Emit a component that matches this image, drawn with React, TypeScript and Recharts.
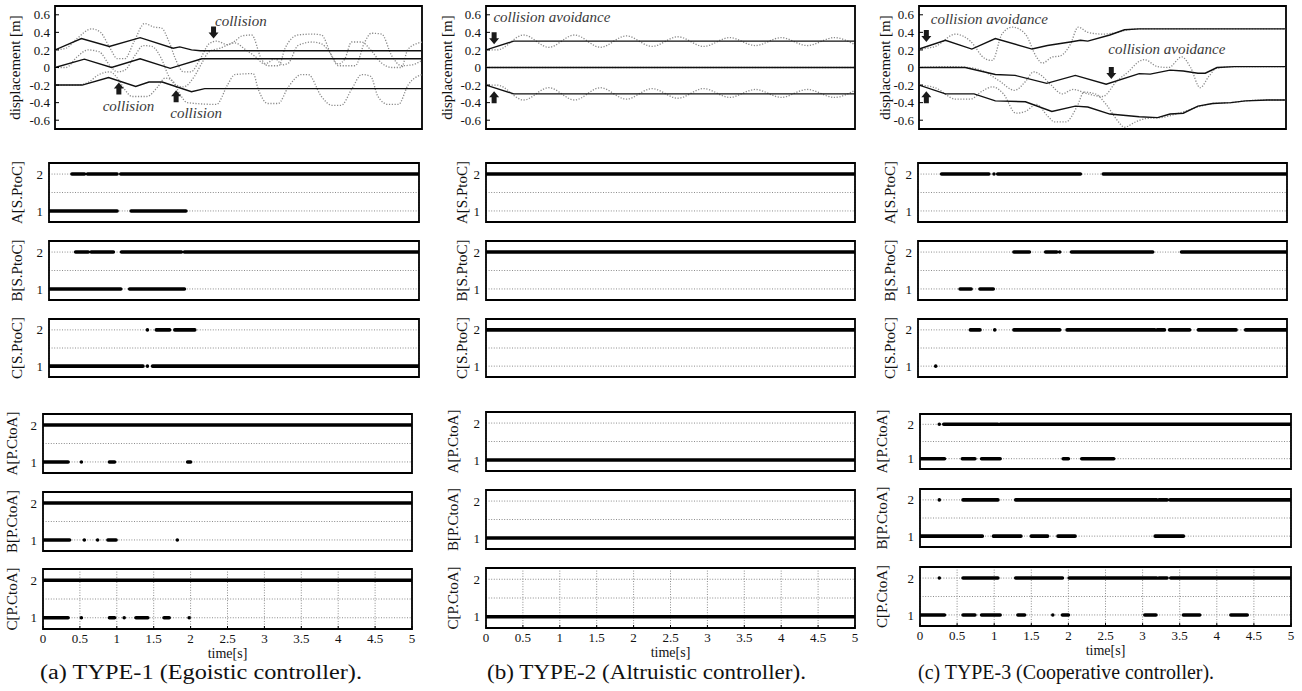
import React from 'react';
import { LineChart, Line, XAxis, YAxis, CartesianGrid, ReferenceArea, ReferenceDot } from 'recharts';

type P = [number, number];
const FONT = '"Liberation Serif", "Times New Roman", serif';

const TIME_TICKS = [0, 0.5, 1, 1.5, 2, 2.5, 3, 3.5, 4, 4.5, 5];
const DISP_TICKS = [-0.6, -0.4, -0.2, 0, 0.2, 0.4, 0.6];
const STATE_TICKS = [1, 1.5, 2];
const DISP_DOMAIN: P = [-0.7, 0.7];
const STATE_DOMAIN: P = [0.7, 2.3];

const CAPTIONS = [
  '(a) TYPE-1 (Egoistic controller).',
  '(b) TYPE-2 (Altruistic controller).',
  '(c) TYPE-3 (Cooperative controller).',
];
const STATE_LABELS = ['A[S.PtoC]', 'B[S.PtoC]', 'C[S.PtoC]', 'A[P.CtoA]', 'B[P.CtoA]', 'C[P.CtoA]'];

// ---------- TYPE-1 displacement ----------
const c1SolidA: P[] = [[0, 0.2], [0.36, 0.33], [0.74, 0.24], [1.16, 0.34], [1.61, 0.22], [1.7, 0.235], [1.86, 0.2], [1.98, 0.19], [5, 0.19]];
const c1SolidB: P[] = [[0, 0], [0.4, 0.095], [0.77, 0], [1.16, 0.1], [1.57, -0.01], [2.0, 0.1], [5, 0.1]];
const c1SolidC: P[] = [[0, -0.2], [0.37, -0.2], [0.73, -0.115], [1.1, -0.215], [1.28, -0.165], [1.46, -0.165], [1.86, -0.275], [2.04, -0.24], [5, -0.24]];
const c1DotA: P[] = [[0, 0.2], [0.15, 0.22], [0.3, 0.33], [0.5, 0.44], [0.62, 0.4], [0.75, 0.22], [0.85, 0.1], [0.95, 0.1], [1.08, 0.3], [1.22, 0.5], [1.35, 0.46], [1.45, 0.45], [1.55, 0.3], [1.65, 0.08], [1.75, -0.05], [1.85, -0.05], [1.98, 0.1], [2.1, 0.27], [2.2, 0.3], [2.35, 0.26], [2.45, 0.3], [2.55, 0.36], [2.68, 0.37], [2.81, 0.1], [2.9, 0.02], [3.05, 0.02], [3.13, 0.21], [3.31, 0.37], [3.5, 0.38], [3.63, 0.37], [3.77, 0.13], [3.86, 0.02], [4.09, 0.02], [4.22, 0.29], [4.31, 0.39], [4.45, 0.38], [4.59, 0.13], [4.72, 0.02], [4.86, 0.03], [5.0, 0.08]];
const c1DotB: P[] = [[0, 0], [0.15, 0.0], [0.3, 0.12], [0.45, 0.2], [0.6, 0.18], [0.75, 0.02], [0.85, -0.05], [0.95, -0.03], [1.1, 0.15], [1.2, 0.25], [1.32, 0.24], [1.45, 0.1], [1.55, -0.1], [1.65, -0.2], [1.75, -0.22], [1.9, -0.1], [2.0, 0.05], [2.1, 0.18], [2.25, 0.22], [2.45, 0.28], [2.6, 0.2], [2.72, 0.13], [2.86, 0.04], [3.0, 0.1], [3.1, 0.03], [3.18, 0.05], [3.31, 0.25], [3.5, 0.29], [3.63, 0.27], [3.72, 0.2], [3.86, 0.04], [3.95, 0.1], [4.04, 0.29], [4.18, 0.29], [4.3, 0.2], [4.45, 0.05], [4.59, 0.0], [4.72, 0.0], [4.81, 0.21], [5.0, 0.29]];
const c1DotC: P[] = [[0, -0.2], [0.3, -0.2], [0.45, -0.17], [0.6, -0.08], [0.75, -0.05], [0.85, -0.12], [0.95, -0.25], [1.05, -0.33], [1.25, -0.33], [1.4, -0.22], [1.5, -0.12], [1.6, -0.15], [1.7, -0.3], [1.8, -0.4], [2.2, -0.42], [2.35, -0.2], [2.45, -0.08], [2.7, -0.07], [2.77, -0.25], [2.9, -0.41], [3.04, -0.41], [3.18, -0.22], [3.36, -0.08], [3.45, -0.08], [3.63, -0.33], [3.77, -0.43], [3.9, -0.43], [4.04, -0.25], [4.18, -0.08], [4.3, -0.1], [4.4, -0.33], [4.54, -0.42], [4.68, -0.42], [4.81, -0.2], [5.0, -0.08]];

// ---------- TYPE-2 displacement ----------
const c2SolidA: P[] = [[0, 0.2], [0.375, 0.3], [5, 0.3]];
const c2SolidB: P[] = [[0, 0], [5, 0]];
const c2SolidC: P[] = [[0, -0.2], [0.375, -0.3], [5, -0.3]];
const c2DotA: P[] = [[0, 0.2], [0.15, 0.2], [0.51, 0.37], [0.85, 0.23], [1.2, 0.37], [1.55, 0.23], [1.9, 0.36], [2.25, 0.24], [2.6, 0.35], [2.95, 0.24], [3.3, 0.34], [3.65, 0.25], [4.0, 0.34], [4.35, 0.25], [4.72, 0.34], [5.0, 0.26]];
const c2DotB: P[] = [[0, 0], [5, 0]];
const c2DotC: P[] = [[0, -0.2], [0.15, -0.2], [0.51, -0.37], [0.85, -0.23], [1.2, -0.37], [1.55, -0.23], [1.9, -0.36], [2.25, -0.24], [2.6, -0.35], [2.95, -0.24], [3.3, -0.34], [3.65, -0.25], [4.0, -0.34], [4.35, -0.25], [4.72, -0.34], [5.0, -0.26]];

// ---------- TYPE-3 displacement ----------
const c3SolidA: P[] = [[0, 0.21], [0.36, 0.31], [0.72, 0.21], [1.04, 0.33], [1.54, 0.21], [1.75, 0.25], [2.06, 0.29], [2.2, 0.31], [2.3, 0.3], [2.6, 0.37], [2.8, 0.43], [3.0, 0.44], [5, 0.44]];
const c3SolidB: P[] = [[0, 0], [0.63, 0], [1.04, -0.08], [1.31, -0.09], [1.74, -0.18], [2.13, -0.09], [2.55, -0.19], [3.0, -0.07], [3.15, -0.075], [3.42, -0.03], [3.6, -0.04], [3.8, -0.065], [3.9, -0.065], [4.06, 0], [4.3, 0.01], [5, 0.01]];
const c3SolidC: P[] = [[0, -0.2], [0.36, -0.3], [0.75, -0.3], [1.04, -0.38], [1.45, -0.39], [1.81, -0.5], [2.13, -0.44], [2.3, -0.45], [2.6, -0.53], [3.0, -0.56], [3.25, -0.57], [3.42, -0.53], [3.6, -0.52], [3.8, -0.44], [4.0, -0.41], [4.25, -0.4], [4.45, -0.38], [4.75, -0.37], [5, -0.37]];
const c3DotA: P[] = [[0, 0.21], [0.22, 0.24], [0.5, 0.38], [0.7, 0.3], [0.9, 0.1], [1.0, 0.08], [1.13, 0.38], [1.27, 0.46], [1.45, 0.38], [1.6, 0.12], [1.68, 0.05], [1.82, 0.12], [1.92, 0.13], [2.06, 0.26], [2.17, 0.46], [2.3, 0.4], [2.5, 0.38], [2.7, 0.4], [2.85, 0.43], [3.0, 0.44], [5, 0.44]];
const c3DotB: P[] = [[0, 0], [0.4, 0.01], [0.68, 0], [0.9, -0.05], [1.09, -0.15], [1.3, -0.26], [1.45, -0.16], [1.56, -0.05], [1.65, -0.08], [1.8, -0.2], [1.95, -0.3], [2.1, -0.25], [2.3, -0.3], [2.5, -0.33], [2.7, -0.15], [2.85, -0.05], [3.0, 0.07], [3.07, 0.09], [3.25, 0.01], [3.4, 0.0], [3.58, 0.12], [3.7, 0.0], [3.83, -0.23], [3.95, -0.1], [4.05, -0.01], [4.3, 0.01], [5, 0.01]];
const c3DotC: P[] = [[0, -0.2], [0.22, -0.23], [0.5, -0.36], [0.7, -0.36], [0.86, -0.27], [1.0, -0.22], [1.15, -0.3], [1.32, -0.52], [1.45, -0.5], [1.6, -0.42], [1.75, -0.55], [1.85, -0.62], [2.0, -0.62], [2.15, -0.45], [2.25, -0.28], [2.4, -0.3], [2.55, -0.42], [2.7, -0.6], [2.8, -0.68], [2.95, -0.62], [3.1, -0.58], [3.3, -0.57], [3.5, -0.53], [3.8, -0.45], [4.0, -0.41], [4.25, -0.4], [4.45, -0.38], [4.75, -0.37], [5, -0.37]];

// ---------- annotations ----------
type Arrow = { t: number; v: number; dir: 'up' | 'down' };
type Note = { t: number; v: number; text: string };
const c1Arrows: Arrow[] = [{ t: 2.16, v: 0.33, dir: 'down' }, { t: 0.87, v: -0.17, dir: 'up' }, { t: 1.65, v: -0.26, dir: 'up' }];
const c1Notes: Note[] = [{ t: 2.18, v: 0.53, text: 'collision' }, { t: 0.65, v: -0.44, text: 'collision' }, { t: 1.57, v: -0.52, text: 'collision' }];
const c2Arrows: Arrow[] = [{ t: 0.11, v: 0.265, dir: 'down' }, { t: 0.11, v: -0.27, dir: 'up' }];
const c2Notes: Note[] = [{ t: 0.1, v: 0.57, text: 'collision avoidance' }];
const c3Arrows: Arrow[] = [{ t: 0.1, v: 0.29, dir: 'down' }, { t: 0.1, v: -0.27, dir: 'up' }, { t: 2.62, v: -0.13, dir: 'down' }];
const c3Notes: Note[] = [{ t: 0.16, v: 0.55, text: 'collision avoidance' }, { t: 2.58, v: 0.21, text: 'collision avoidance' }];

// ---------- state segments [start, end] ----------
const c1_SA_2: P[] = [[0.31, 0.48], [0.52, 0.92], [0.97, 5]];
const c1_SA_1: P[] = [[0, 0.92], [1.11, 1.85]];
const c1_SB_2: P[] = [[0.36, 0.53], [0.57, 0.87], [0.98, 1.79], [1.83, 5]];
const c1_SB_1: P[] = [[0, 0.97], [1.09, 1.83]];
const c1_SC_2: P[] = [[1.33, 1.33], [1.45, 1.63], [1.7, 1.97]];
const c1_SC_1: P[] = [[0, 1.27], [1.33, 1.33], [1.4, 5]];
const c1_PA_2: P[] = [[0, 5]];
const c1_PA_1: P[] = [[0, 0.34], [0.52, 0.52], [0.9, 0.97], [1.96, 2.0]];
const c1_PB_2: P[] = [[0, 5]];
const c1_PB_1: P[] = [[0, 0.36], [0.56, 0.56], [0.74, 0.74], [0.88, 0.99], [1.82, 1.82]];
const c1_PC_2: P[] = [[0, 5]];
const c1_PC_1: P[] = [[0, 0.34], [0.52, 0.52], [0.9, 0.97], [1.1, 1.1], [1.26, 1.42], [1.64, 1.71], [1.98, 1.98]];

const c2_SA_2: P[] = [[0, 5]];
const c2_SB_2: P[] = [[0, 5]];
const c2_SC_2: P[] = [[0, 5]];
const c2_PA_1: P[] = [[0, 5]];
const c2_PB_1: P[] = [[0, 5]];
const c2_PC_1: P[] = [[0, 5]];
const NONE: P[] = [];

const c3_SA_2: P[] = [[0.32, 0.96], [1.03, 1.03], [1.08, 2.2], [2.51, 5]];
const c3_SB_2: P[] = [[1.3, 1.51], [1.73, 1.88], [1.92, 1.92], [2.08, 3.18], [3.57, 5]];
const c3_SB_1: P[] = [[0.57, 0.72], [0.84, 1.02]];
const c3_SC_2: P[] = [[0.71, 0.84], [1.04, 1.04], [1.3, 1.92], [2.02, 3.21], [3.24, 3.34], [3.41, 3.68], [3.8, 4.31], [4.44, 5]];
const c3_SC_1: P[] = [[0.24, 0.24]];
const c3_PA_2: P[] = [[0.26, 0.26], [0.32, 1.05], [1.08, 5]];
const c3_PA_1: P[] = [[0, 0.33], [0.57, 0.74], [0.83, 1.08], [1.93, 2.0], [2.18, 2.61]];
const c3_PB_2: P[] = [[0.26, 0.26], [0.58, 1.05], [1.29, 3.19], [3.22, 3.33], [3.37, 5]];
const c3_PB_1: P[] = [[0, 0.84], [0.99, 1.36], [1.5, 1.72], [1.86, 2.09], [3.17, 3.55]];
const c3_PC_2: P[] = [[0.26, 0.26], [0.58, 1.05], [1.29, 1.92], [2.01, 3.19], [3.22, 3.33], [3.38, 5]];
const c3_PC_1: P[] = [[0, 0.33], [0.58, 0.74], [0.83, 1.08], [1.32, 1.41], [1.79, 1.79], [1.92, 2.0], [3.03, 3.18], [3.55, 3.77], [4.19, 4.41]];

// ---------- helpers ----------
const toPts = (arr: P[]) => arr.map(([t, v]) => ({ t, v }));
const segData = (segs: P[], level: number) => {
  const out: { t: number; v: number | null }[] = [];
  segs.forEach(([a, b]) => {
    out.push({ t: a, v: level });
    out.push({ t: b, v: level });
    out.push({ t: b, v: null });
  });
  return out;
};

const vLabel = (text: string, cx: number, size: number) => (props: any) => {
  const vb = props.viewBox || { y: 0, height: 0 };
  const y = vb.y + vb.height / 2;
  return (
    <text x={cx} y={y} transform={`rotate(-90 ${cx} ${y})`} textAnchor="middle" dominantBaseline="central" fontFamily={FONT} fontSize={size} fill="#111">
      {text}
    </text>
  );
};

const tickStyle = { fontSize: 13, fill: '#111', fontFamily: FONT };

const arrowShape = (dir: 'up' | 'down') => (p: any) => {
  const { cx, cy } = p;
  const s = dir === 'down' ? -1 : 1;
  const d = `M${cx - 2.5},${cy + s * 12} L${cx + 2.5},${cy + s * 12} L${cx + 2.5},${cy + s * 6} L${cx + 5},${cy + s * 6} L${cx},${cy} L${cx - 5},${cy + s * 6} L${cx - 2.5},${cy + s * 6} Z`;
  return <path d={d} fill="#1a1a1a" />;
};
const noteShape = (text: string) => (p: any) => (
  <text x={p.cx} y={p.cy} dominantBaseline="central" fontFamily={FONT} fontStyle="italic" fontSize={15} fill="#3a3a3a">
    {text}
  </text>
);

type DispProps = {
  x0: number; fl: number; fr: number; ft: number; fb: number; labelX: number;
  solids: P[][]; dots: P[][]; arrows: Arrow[]; notes: Note[];
};

function DispPanel({ x0, fl, fr, ft, fb, labelX, solids, dots, arrows, notes }: DispProps) {
  const R = 8;
  const W = fr - x0 + R;
  const H = fb + 6;
  return (
    <div style={{ position: 'absolute', left: x0, top: 0 }}>
      <LineChart width={W} height={H} margin={{ top: ft, right: R, bottom: 0, left: 0 }}>
        <XAxis type="number" dataKey="t" domain={[0, 5]} ticks={TIME_TICKS} interval={0} height={6} tick={false} tickSize={-4} axisLine={false} tickLine={{ stroke: '#000' }} allowDataOverflow />
        <XAxis xAxisId="top" orientation="top" type="number" dataKey="t" domain={[0, 5]} ticks={TIME_TICKS} interval={0} height={0} tick={false} tickSize={-4} axisLine={false} tickLine={{ stroke: '#000' }} allowDataOverflow />
        <YAxis type="number" domain={DISP_DOMAIN} ticks={DISP_TICKS} interval={0} width={fl - x0} tickSize={-4} tickMargin={9} axisLine={false} tickLine={{ stroke: '#000' }} tick={tickStyle} tickFormatter={(v: number) => (v === 0 ? '0' : v.toFixed(1))} allowDataOverflow label={{ content: vLabel('displacement [m]', labelX - x0, 15) }} />
        <YAxis yAxisId="r" orientation="right" type="number" domain={DISP_DOMAIN} ticks={DISP_TICKS} interval={0} width={0} tick={false} tickSize={-4} axisLine={false} tickLine={{ stroke: '#000' }} allowDataOverflow />
        {dots.map((d, i) => (
          <Line key={'d' + i} data={toPts(d)} dataKey="v" type="monotone" stroke="#8a8a8a" strokeWidth={1.3} strokeDasharray="1.2 1.6" dot={false} activeDot={false} isAnimationActive={false} />
        ))}
        {solids.map((d, i) => (
          <Line key={'s' + i} data={toPts(d)} dataKey="v" type="linear" stroke="#111" strokeWidth={1.4} dot={false} activeDot={false} isAnimationActive={false} />
        ))}
        <ReferenceArea x1={0} x2={5} y1={DISP_DOMAIN[0]} y2={DISP_DOMAIN[1]} fill="none" fillOpacity={0} stroke="#000" strokeWidth={1.8} />
        {arrows.map((a, i) => (
          <ReferenceDot key={'a' + i} x={a.t} y={a.v} r={1} shape={arrowShape(a.dir)} />
        ))}
        {notes.map((n, i) => (
          <ReferenceDot key={'n' + i} x={n.t} y={n.v} r={1} shape={noteShape(n.text)} />
        ))}
      </LineChart>
    </div>
  );
}

type StateProps = {
  x0: number; fl: number; fr: number; ft: number; fb: number; labelX: number;
  label: string; lvl1: P[]; lvl2: P[]; bottom?: boolean;
};

function StatePanel({ x0, fl, fr, ft, fb, labelX, label, lvl1, lvl2, bottom }: StateProps) {
  const R = 8;
  const T = 6;
  const B = bottom ? 32 : 4;
  const W = fr - x0 + R;
  const H = fb - ft + T + B;
  return (
    <div style={{ position: 'absolute', left: x0, top: ft - T }}>
      <LineChart width={W} height={H} margin={{ top: T, right: R, bottom: 0, left: 0 }}>
        <CartesianGrid stroke="#8c8c8c" strokeDasharray="1 1.6" strokeWidth={1} />
        <XAxis type="number" dataKey="t" domain={[0, 5]} ticks={TIME_TICKS} interval={0} height={B} tick={bottom ? tickStyle : false} tickSize={-3} tickMargin={8} axisLine={false} tickLine={{ stroke: '#000' }} allowDataOverflow
          label={bottom ? { content: (p: any) => { const vb = p.viewBox || { x: 0, y: 0, width: 0 }; return <text x={vb.x + vb.width / 2} y={vb.y + 24} textAnchor="middle" dominantBaseline="central" fontFamily={FONT} fontSize={14} fill="#111">time[s]</text>; } } : undefined} />
        <YAxis type="number" domain={STATE_DOMAIN} ticks={STATE_TICKS} interval={0} width={fl - x0} tickSize={0} tickMargin={6} axisLine={false} tickLine={false} tick={tickStyle} tickFormatter={(v: number) => (v === 1.5 ? '' : String(v))} allowDataOverflow label={{ content: vLabel(label, labelX - x0, 15) }} />
        <Line data={segData(lvl2, 2)} dataKey="v" type="linear" stroke="#000" strokeWidth={3.6} strokeLinecap="round" dot={false} activeDot={false} isAnimationActive={false} />
        <Line data={segData(lvl1, 1)} dataKey="v" type="linear" stroke="#000" strokeWidth={3.6} strokeLinecap="round" dot={false} activeDot={false} isAnimationActive={false} />
        <ReferenceArea x1={0} x2={5} y1={STATE_DOMAIN[0]} y2={STATE_DOMAIN[1]} fill="none" fillOpacity={0} stroke="#000" strokeWidth={1.8} />
      </LineChart>
    </div>
  );
}

const S_ROWS: P[] = [[163, 222], [241, 300], [319, 377]];

type ColSpec = {
  x0: number;
  disp: { fl: number; fr: number; labelX: number; solids: P[][]; dots: P[][]; arrows: Arrow[]; notes: Note[] };
  s: { fl: number; fr: number; labelX: number; data: [P[], P[]][] };
  p: { fl: number; fr: number; labelX: number; rows: P[]; data: [P[], P[]][] };
  caption: { x: number; w: number; text: string };
};

const COLS: ColSpec[] = [
  {
    x0: 0,
    disp: { fl: 55, fr: 422, labelX: 15, solids: [c1SolidA, c1SolidB, c1SolidC], dots: [c1DotA, c1DotB, c1DotC], arrows: c1Arrows, notes: c1Notes },
    s: { fl: 49, fr: 419, labelX: 17, data: [[c1_SA_1, c1_SA_2], [c1_SB_1, c1_SB_2], [c1_SC_1, c1_SC_2]] },
    p: { fl: 43, fr: 412, labelX: 12, rows: [[414, 473], [492, 551], [569, 629]], data: [[c1_PA_1, c1_PA_2], [c1_PB_1, c1_PB_2], [c1_PC_1, c1_PC_2]] },
    caption: { x: 40, w: 322, text: CAPTIONS[0] },
  },
  {
    x0: 440,
    disp: { fl: 486, fr: 855, labelX: 447, solids: [c2SolidA, c2SolidB, c2SolidC], dots: [c2DotA, c2DotB, c2DotC], arrows: c2Arrows, notes: c2Notes },
    s: { fl: 486, fr: 855, labelX: 462, data: [[NONE, c2_SA_2], [NONE, c2_SB_2], [NONE, c2_SC_2]] },
    p: { fl: 486, fr: 855, labelX: 453, rows: [[412, 471], [490, 549], [568, 628]], data: [[c2_PA_1, NONE], [c2_PB_1, NONE], [c2_PC_1, NONE]] },
    caption: { x: 487, w: 319, text: CAPTIONS[1] },
  },
  {
    x0: 870,
    disp: { fl: 919, fr: 1286, labelX: 885, solids: [c3SolidA, c3SolidB, c3SolidC], dots: [c3DotA, c3DotB, c3DotC], arrows: c3Arrows, notes: c3Notes },
    s: { fl: 918, fr: 1287, labelX: 890, data: [[NONE, c3_SA_2], [c3_SB_1, c3_SB_2], [c3_SC_1, c3_SC_2]] },
    p: { fl: 920, fr: 1291, labelX: 882, rows: [[414, 469], [489, 547], [567, 626]], data: [[c3_PA_1, c3_PA_2], [c3_PB_1, c3_PB_2], [c3_PC_1, c3_PC_2]] },
    caption: { x: 918, w: 296, text: CAPTIONS[2] },
  },
];

export default function App() {
  return (
    <div style={{ position: 'absolute', left: 0, top: 0, width: 1302, height: 691, background: '#fff', overflow: 'hidden', fontFamily: FONT }}>
      {COLS.map((c, ci) => (
        <React.Fragment key={ci}>
          <DispPanel x0={c.x0} fl={c.disp.fl} fr={c.disp.fr} ft={6} fb={129} labelX={c.disp.labelX} solids={c.disp.solids} dots={c.disp.dots} arrows={c.disp.arrows} notes={c.disp.notes} />
          {S_ROWS.map((r, ri) => (
            <StatePanel key={'s' + ri} x0={c.x0} fl={c.s.fl} fr={c.s.fr} ft={r[0]} fb={r[1]} labelX={c.s.labelX} label={STATE_LABELS[ri]} lvl1={c.s.data[ri][0]} lvl2={c.s.data[ri][1]} />
          ))}
          {c.p.rows.map((r, ri) => (
            <StatePanel key={'p' + ri} x0={c.x0} fl={c.p.fl} fr={c.p.fr} ft={r[0]} fb={r[1]} labelX={c.p.labelX} label={STATE_LABELS[3 + ri]} lvl1={c.p.data[ri][0]} lvl2={c.p.data[ri][1]} bottom={ri === 2} />
          ))}
          <svg style={{ position: 'absolute', left: c.caption.x, top: 660 }} width={c.caption.w + 4} height={26}>
            <text x={0} y={19} fontFamily={FONT} fontSize={20} fill="#111" textLength={c.caption.w} lengthAdjust="spacingAndGlyphs">
              {c.caption.text}
            </text>
          </svg>
        </React.Fragment>
      ))}
    </div>
  );
}
